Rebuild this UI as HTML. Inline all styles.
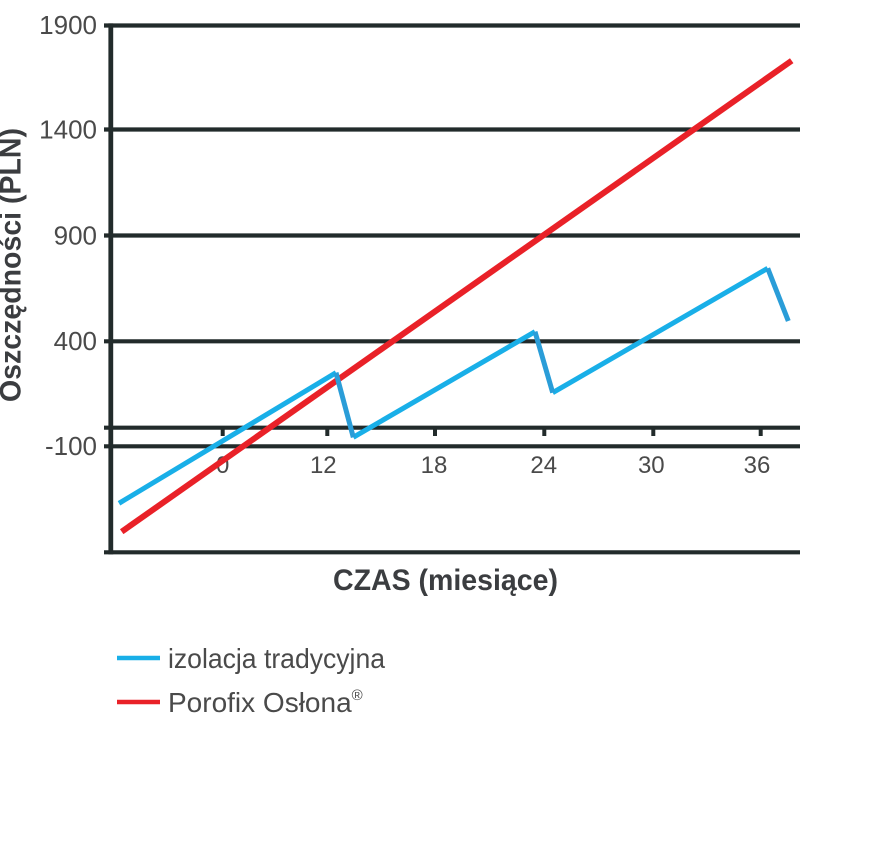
<!DOCTYPE html>
<html>
<head>
<meta charset="utf-8">
<style>
  html, body { margin: 0; padding: 0; background: #ffffff; }
  body { width: 878px; height: 853px; overflow: hidden; }
  svg { display: block; }
  .tick { font-family: "Liberation Sans", "DejaVu Sans", sans-serif; fill: #4a4a4a; }
  .title { font-family: "Liberation Sans", "DejaVu Sans", sans-serif; font-weight: bold; fill: #3b3d40; }
  .leg { font-family: "Liberation Sans", "DejaVu Sans", sans-serif; fill: #4a4a4a; }
</style>
</head>
<body>
<svg width="878" height="853" viewBox="0 0 878 853" xmlns="http://www.w3.org/2000/svg">
  <!-- grid lines -->
  <g stroke="#222b2b" stroke-width="4.2">
    <line x1="104" y1="25.5" x2="800" y2="25.5"/>
    <line x1="104" y1="129.5" x2="800" y2="129.5"/>
    <line x1="104" y1="235.5" x2="800" y2="235.5"/>
    <line x1="104" y1="341.3" x2="800" y2="341.3"/>
    <line x1="104" y1="427.7" x2="800" y2="427.7"/>
    <line x1="104" y1="446.3" x2="800" y2="446.3"/>
    <line x1="104" y1="552.3" x2="800" y2="552.3"/>
  </g>
  <!-- y axis -->
  <line x1="110.8" y1="23.4" x2="110.8" y2="554.4" stroke="#222b2b" stroke-width="4.8"/>
  <!-- x ticks -->
  <g stroke="#222b2b" stroke-width="4">
    <line x1="222.7" y1="428" x2="222.7" y2="436"/>
    <line x1="327.3" y1="428" x2="327.3" y2="436"/>
    <line x1="435" y1="428" x2="435" y2="436"/>
    <line x1="544.3" y1="428" x2="544.3" y2="436"/>
    <line x1="653.3" y1="428" x2="653.3" y2="436"/>
    <line x1="760.7" y1="428" x2="760.7" y2="436"/>
  </g>

  <!-- y tick labels -->
  <g class="tick" font-size="26" text-anchor="end">
    <text x="97" y="34">1900</text>
    <text x="97" y="138.5">1400</text>
    <text x="97" y="244.5">900</text>
    <text x="97" y="350">400</text>
    <text x="97" y="455">-100</text>
  </g>
  <!-- x tick labels -->
  <g class="tick" font-size="24" text-anchor="middle">
    <text x="222.7" y="473">0</text>
    <text x="323.3" y="473">12</text>
    <text x="434" y="473">18</text>
    <text x="543.7" y="473">24</text>
    <text x="651.3" y="473">30</text>
    <text x="757" y="473">36</text>
  </g>

  <!-- titles -->
  <text class="title" font-size="30" text-anchor="middle" textLength="274" lengthAdjust="spacingAndGlyphs" transform="translate(20.5,265) rotate(-90)">Oszczędności (PLN)</text>
  <text class="title" font-size="30" text-anchor="middle" textLength="225" lengthAdjust="spacingAndGlyphs" x="445.5" y="590">CZAS (miesiące)</text>

  <!-- series: red -->
  <line x1="121.7" y1="531.7" x2="791.7" y2="60.7" stroke="#e92128" stroke-width="6"/>

  <!-- series: blue -->
  <g fill="none" stroke-width="5" stroke-linejoin="miter" stroke-linecap="butt">
    <line x1="119" y1="503.3" x2="336" y2="372.7" stroke="#19afe8"/>
    <line x1="353.3" y1="437.3" x2="535" y2="331.7" stroke="#19afe8"/>
    <line x1="552.7" y1="392.7" x2="767.7" y2="268.3" stroke="#19afe8"/>
    <polyline points="336,372.7 353.3,437.3" stroke="#2a9dd8"/>
    <polyline points="535,331.7 552.7,392.7" stroke="#2a9dd8"/>
    <polyline points="767.7,268.3 788.3,321" stroke="#2a9dd8"/>
  </g>

  <!-- legend -->
  <line x1="117" y1="658" x2="160" y2="658" stroke="#19afe8" stroke-width="4.5"/>
  <text class="leg" font-size="28" x="168" y="668" textLength="217" lengthAdjust="spacingAndGlyphs">izolacja tradycyjna</text>
  <line x1="117" y1="702" x2="160" y2="702" stroke="#e92128" stroke-width="4.5"/>
  <text class="leg" font-size="28" x="168" y="712">Porofix Osłona<tspan font-size="15" dy="-12">®</tspan></text>
</svg>
</body>
</html>
